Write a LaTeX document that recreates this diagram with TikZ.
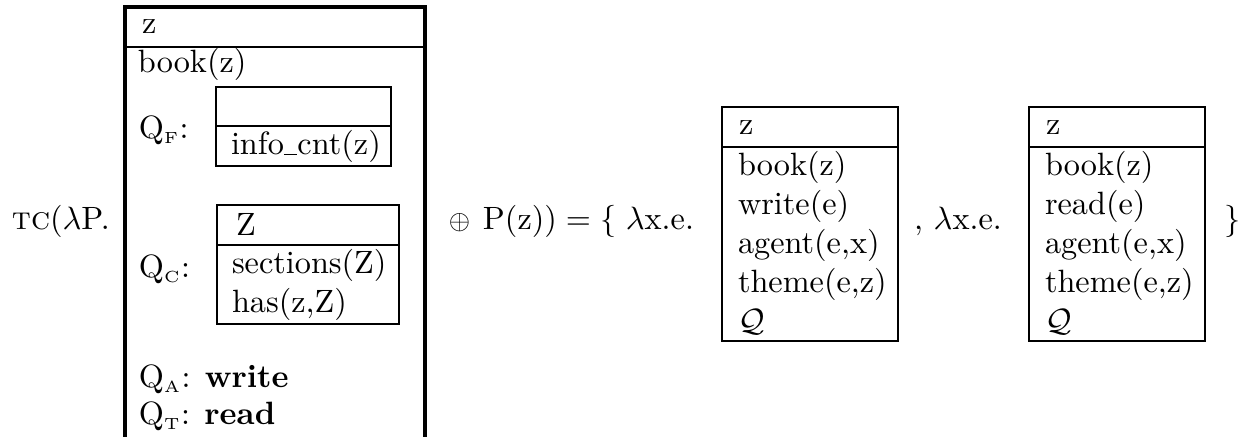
\documentclass[tikz,border=0pt]{standalone}
\begin{document}
\begin{tikzpicture}[x=0.31pt,y=-0.31pt,
  txt/.style={anchor=base west,inner sep=0pt,outer sep=0pt},
  bigline/.style={line width=1pt},
  smline/.style={line width=0.65pt}]
\useasboundingbox (0,0) rectangle (1244,437);
% left text
\node[txt] (tc) at (12,230) {\textsc{tc}($\lambda$P.};
% big box
\draw[bigline] (125,450) -- (125,7) -- (425,7) -- (425,450);
\draw[line width=0.8pt] (125,47) -- (425,47);
\node[txt] (bz) at (142,34) {z};
\node[txt] (bbook) at (138,73) {book(z)};
\node[txt] (qf) at (139,139) {Q$_{\mbox{\tiny F}}$:};
\draw[smline] (216,87) rectangle (391,166);
\draw[smline] (216,126) -- (391,126);
\node[txt] (info) at (231,155) {info\rule{4.2pt}{0.4pt}cnt(z)};
\node[txt] (qc) at (139,278) {Q$_{\mbox{\tiny C}}$:};
\draw[smline] (217,205) rectangle (399,324);
\draw[smline] (217,245) -- (399,245);
\node[txt] (cz) at (236,236) {Z};
\node[txt] (sec) at (232,274) {sections(Z)};
\node[txt] (has) at (232,313) {has(z,Z)};
\node[txt] (qa) at (139,388) {Q$_{\mbox{\tiny A}}$: \textbf{write}};
\node[txt] (qt) at (139,425) {Q$_{\mbox{\tiny T}}$: \textbf{read}};
% middle text
\node[anchor=base east,inner sep=0pt,outer sep=0pt] (mid) at (694,230) {\raisebox{0.2pt}{\scalebox{0.85}{$\oplus$}}\hspace{4pt}P(z))\hspace{2.8pt}=\hspace{2.8pt}$\{$\hspace{3pt}$\lambda$x.e.};
% box 1
\draw[smline] (722,107) rectangle (898,341);
\draw[smline] (722,147) -- (898,147);
\node[txt] (az) at (739,135) {z};
\node[txt] (a1) at (738,176) {book(z)};
\node[txt] (a2) at (738,215) {write(e)};
\node[txt] (a3) at (738,254) {agent(e,x)};
\node[txt] (a4) at (738,293) {theme(e,z)};
\node[txt] (a5) at (738,332) {$\mathcal{Q}$};
% comma text
\node[txt] (mid2) at (914,230) {, $\lambda$x.e.};
% box 2
\draw[smline] (1029,107) rectangle (1205,341);
\draw[smline] (1029,147) -- (1205,147);
\node[txt] (bz2) at (1046,135) {z};
\node[txt] (b1) at (1045,176) {book(z)};
\node[txt] (b2) at (1045,215) {read(e)};
\node[txt] (b3) at (1045,254) {agent(e,x)};
\node[txt] (b4) at (1045,293) {theme(e,z)};
\node[txt] (b5) at (1045,332) {$\mathcal{Q}$};
\node[txt] (close) at (1224,230) {$\}$};
\end{tikzpicture}
\end{document}
